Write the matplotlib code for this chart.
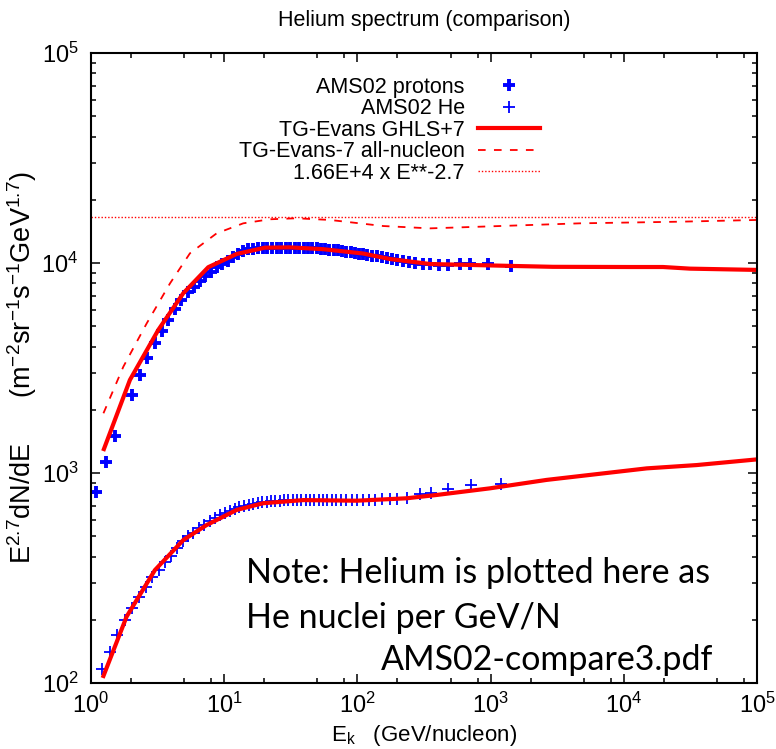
import numpy as np
import matplotlib
matplotlib.use('Agg')
import matplotlib.pyplot as plt
from matplotlib.ticker import LogLocator, LogFormatterSciNotation, NullFormatter

plt.rcParams['font.family'] = ['Liberation Sans', 'DejaVu Sans']
plt.rcParams['mathtext.fontset'] = 'custom'
plt.rcParams['mathtext.rm'] = 'Liberation Sans'
plt.rcParams['mathtext.it'] = 'Liberation Sans:italic'
plt.rcParams['mathtext.bf'] = 'Liberation Sans:bold'
plt.rcParams['mathtext.default'] = 'regular'
plt.rcParams['lines.scale_dashes'] = False

# AMS02 protons (Ek in GeV, flux * E^2.7)
p_ek = [1.09, 1.30, 1.52, 2.03, 2.32, 2.65, 3.01, 3.39, 3.81, 4.27,
        4.77, 5.31, 5.90, 6.54, 7.23, 7.97, 8.78, 9.61, 10.6, 11.6,
        12.6, 13.8, 15.0, 16.4, 17.8, 19.4, 21.0, 22.8, 24.8, 26.8,
        29.0, 31.4, 33.9, 36.6, 39.5, 42.6, 45.9, 49.4, 53.2, 57.3,
        61.6, 66.3, 71.4, 76.8, 82.6, 88.8, 95.6, 103, 111, 119,
        129, 140, 152, 166, 182, 200, 221, 244, 273, 309,
        352, 407, 479, 589, 700, 950, 1420]
p_flux = [812, 1132, 1506, 2352, 2931, 3540, 4150, 4745, 5355, 6020,
          6670, 7300, 7710, 8200, 8670, 9090, 9540, 9860, 10230, 10650,
          11000, 11450, 11600, 11700, 11750, 11800, 11830, 11850, 11850, 11850,
          11850, 11850, 11840, 11830, 11810, 11790, 11760, 11730, 11690, 11640,
          11590, 11530, 11470, 11400, 11330, 11250, 11170, 11090, 11010, 10930,
          10840, 10740, 10640, 10540, 10440, 10340, 10240, 10130, 10020, 9920,
          9850, 9800, 9830, 9870, 9900, 9850, 9700]

# AMS02 helium (Ek per nucleon)
he_ek = [1.20, 1.38, 1.57, 1.79, 2.03, 2.30, 2.58, 2.89, 3.23, 3.60,
         3.99, 4.40, 4.89, 5.39, 5.88, 6.48, 7.07, 7.77, 8.47, 9.26,
         10.1, 11.0, 12.0, 13.0, 14.1, 15.3, 16.5, 17.9, 19.3, 20.8,
         22.5, 24.2, 26.1, 28.2, 30.3, 32.7, 35.2, 37.9, 40.8, 43.9,
         47.3, 51.1, 55.1, 59.1, 64.1, 69.6, 75.6, 82.6, 90.6, 99.6,
         110, 122, 136, 154, 176, 200, 235, 293, 360, 481,
         718, 1191]
he_flux = [117, 140, 170, 200, 228, 258, 288, 318, 346, 376,
           404, 437, 472, 499, 520, 546, 568, 592, 612, 628,
           645, 660, 675, 687, 697, 705, 712, 719, 725, 729,
           733, 736, 738, 740, 741, 742, 742, 742, 742, 742,
           741, 741, 740, 740, 740, 740, 740, 741, 742, 743,
           744, 745, 747, 749, 751, 755, 762, 790, 800, 836,
           877, 887]

# TG-Evans GHLS+7 model, protons and helium
pm_ek = [1.25, 1.96, 3.20, 4.93, 7.59, 12.4, 20.2, 31.1, 55, 110,
         175, 351, 1481, 2940, 11100, 19700, 31400, 1e5]
pm_flux = [1300, 2775, 4800, 7180, 9550, 11040, 11830, 11870, 11640, 11100,
           10450, 9890, 9680, 9590, 9570, 9570, 9400, 9270]
hm_ek = [1.24, 1.85, 3.02, 4.94, 7.37, 12.4, 19.6, 39.3, 98.7, 235,
         394, 985, 2630, 14860, 35300, 1e5]
hm_flux = [108, 207, 345, 480, 565, 667, 718, 743, 738, 758,
           786, 845, 927, 1052, 1091, 1161]

# TG-Evans-7 all-nucleon
an_ek = [1.24, 1.75, 2.62, 3.92, 5.53, 8.77, 13.9, 22.0, 34.9, 62.4,
         156, 351, 834, 4700, 26500, 1e5]
an_flux = [1925, 3210, 5160, 8000, 11120, 13840, 15450, 16150, 16330, 16030,
           15000, 14620, 14890, 15450, 15730, 16030]

# 1.66E+4 x E**-2.7  (times E^2.7)
ref_ek = np.array([1.0, 1e5])
ref_norm = 1.66e4

fig = plt.figure(figsize=(7.76, 7.49), dpi=100)
ax = fig.add_axes([91/776, 66/749, 666/776, 630/749])

ax.plot(p_ek, p_flux, ls='none', marker='+', ms=8, mew=2.8, color='#0000ff',
        label='AMS02 protons')
ax.plot(he_ek, he_flux, ls='none', marker='+', ms=9, mew=1.3, color='#0000ff',
        label='AMS02 He')
ax.plot(pm_ek, pm_flux, color='#ff0000', lw=3, label='TG-Evans GHLS+7')
ax.plot(an_ek, an_flux, color='#ff0000', lw=1.3, dashes=(5.5, 6),
        label='TG-Evans-7 all-nucleon')
ax.plot(ref_ek, ref_norm * ref_ek**-2.7 * ref_ek**2.7, color='#ff0000', lw=1.0,
        dashes=(1.0, 1.4), label='1.66E+4 x E**-2.7')
ax.plot(hm_ek, hm_flux, color='#ff0000', lw=3)

ax.set_xscale('log')
ax.set_yscale('log')
ax.set_xlim(1, 1e5)
ax.set_ylim(1e2, 1e5)

ax.xaxis.set_major_locator(LogLocator(base=10, numticks=10))
ax.xaxis.set_minor_locator(LogLocator(base=10, subs=[2, 5, 8], numticks=20))
ax.yaxis.set_major_locator(LogLocator(base=10, numticks=10))
ax.yaxis.set_minor_locator(LogLocator(base=10, subs=np.arange(2, 10), numticks=20))
ax.xaxis.set_major_formatter(LogFormatterSciNotation())
ax.yaxis.set_major_formatter(LogFormatterSciNotation())
ax.xaxis.set_minor_formatter(NullFormatter())
ax.yaxis.set_minor_formatter(NullFormatter())

ax.tick_params(which='both', direction='in', top=True, right=True,
               labelsize=17, width=1.1, color='black')
ax.tick_params(which='major', length=6.5)
ax.tick_params(which='minor', length=3.3)
ax.tick_params(axis='y', pad=9)
ax.tick_params(axis='x', pad=7)
for s in ax.spines.values():
    s.set_linewidth(1.5)

ax.set_title('Helium spectrum (comparison)', fontsize=15.5, pad=19.5)
ax.set_xlabel('E$_k$   (GeV/nucleon)', fontsize=16)
ax.set_ylabel('E$^{2.7}$dN/dE      (m$^{-2}$sr$^{-1}$s$^{-1}$GeV$^{1.7}$)', fontsize=19.5)
ax.xaxis.set_label_coords(0.5, -0.064)
ax.yaxis.set_label_coords(-0.078, 0.5)

leg = ax.legend(loc='upper right', bbox_to_anchor=((540 - 91) / 666, 0.962),
                frameon=False, markerfirst=False, fontsize=15.5,
                handlelength=2.9, handletextpad=0.6, labelspacing=0.02,
                borderpad=0, borderaxespad=0)

note_font = ['Lato', 'DejaVu Sans']
ax.text(0.2327, 0.1746, 'Note: Helium is plotted here as', transform=ax.transAxes,
        fontsize=24.5, family=note_font, ha='left', va='center')
ax.text(0.2327, 0.103, 'He nuclei per GeV/N', transform=ax.transAxes,
        fontsize=24.5, family=note_font, ha='left', va='center')
ax.text(0.934, 0.0365, 'AMS02-compare3.pdf', transform=ax.transAxes,
        fontsize=24.5, family=note_font, ha='right', va='center')

fig.savefig('out.png', dpi=100)
